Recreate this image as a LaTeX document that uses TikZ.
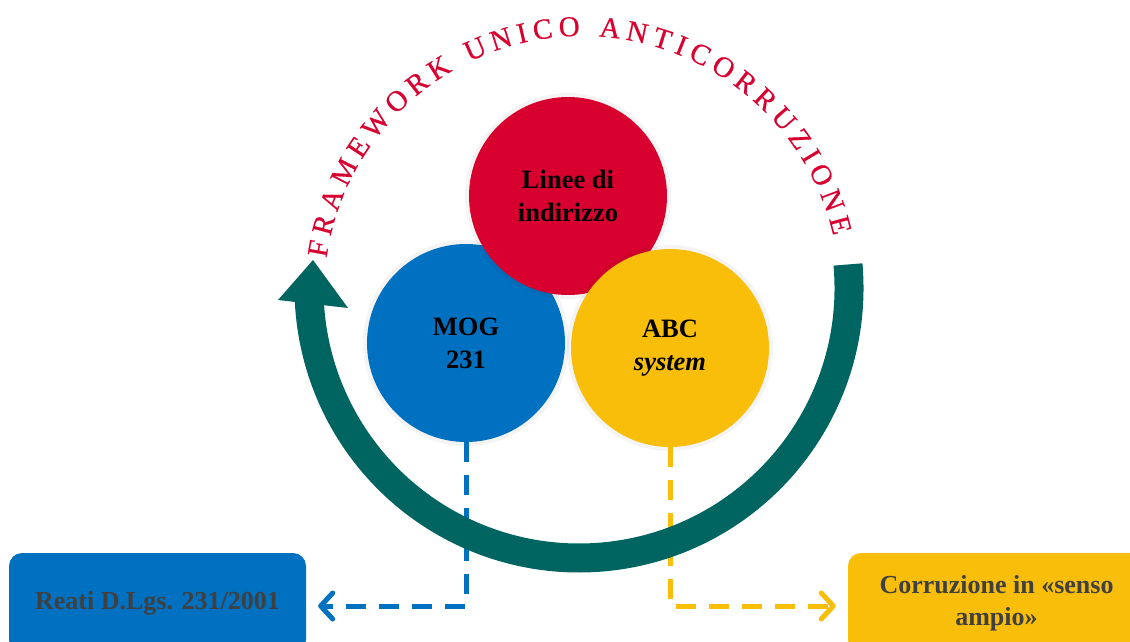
\documentclass[tikz,border=0pt]{standalone}
\usepackage{fontspec}
\setmainfont{Liberation Serif}
\newfontfamily\arcfam{Liberation Serif}[BoldFont=Liberation Serif, BoldFeatures={FakeBold=0.6}]
\usetikzlibrary{decorations.text, calc, arrows.meta}
\definecolor{cblue}{RGB}{0,112,192}
\definecolor{cred}{RGB}{216,0,46}
\definecolor{cyellow}{RGB}{249,190,9}
\definecolor{cteal}{RGB}{0,101,97}
\definecolor{cgray}{RGB}{64,64,64}
\newcommand{\arcfont}{\arcfam\bfseries\fontsize{29}{29}\selectfont}
\tikzset{
  bubble/.style={circle, minimum size=198pt, inner sep=0pt, align=center,
    text=black, font=\bfseries\fontsize{26.5}{33}\selectfont},
  halo/.style={fill=black, opacity=0.045},
  infobox/.style={rectangle, rounded corners=13pt, minimum width=297pt,
    minimum height=100pt, align=center, text=cgray,
    font=\bfseries\fontsize{26}{32}\selectfont},
  dashlink/.style={line width=5pt, dash pattern=on 20pt off 13pt,
    -{Straight Barb[length=12pt,width=26pt,round]}, shorten >=12pt},
}
\begin{document}
\begin{tikzpicture}[x=1pt,y=1pt]
\clip (0,0) rectangle (1130,641);
\coordinate (cB) at (466,298);
\coordinate (cR) at (568,445);
\coordinate (cY) at (670,293);
\coordinate (gc) at (579,353);
\coordinate (tc) at (582,347);

% bottom boxes
\node[infobox, fill=cblue] (reati) at (157.5,38) {Reati D.Lgs. 231/2001};
\node[infobox, fill=cyellow] (corr) at (996.5,38) {Corruzione in «senso\\ampio»};

% circles
\fill[halo] (cB) circle (103) (cB) circle (101.5) (cB) circle (100.3);
\node[bubble, fill=cblue] (mog) at (cB) {MOG\\231};
\fill[halo] (cR) circle (103) (cR) circle (101.5) (cR) circle (100.3);
\node[bubble, fill=cred] (linee) at (cR) {Linee di\\indirizzo};
\fill[halo] (cY) circle (103) (cY) circle (101.5) (cY) circle (100.3);
\node[bubble, fill=cyellow] (abc) at (cY) {ABC\\\textit{system}};

% dashed connectors
\draw[dashlink, draw=cblue] (mog.south) |- ([yshift=-3pt]reati.east);
\draw[dashlink, draw=cyellow] (abc.south) |- ([yshift=-3pt]corr.west);

% circular arrow
\draw[cteal, line width=29pt] ($(gc)+(5:270)$) arc[start angle=5, end angle=-178, radius=270];
\fill[cteal] (278,341) -- (313,381) -- (348,333) -- cycle;

% title along the arc
\path[decorate, decoration={text along path, text align={fit to path}, text color=cred,
  text={|\arcfont|FRAMEWORK UNICO ANTICORRUZIONE}}]
  ($(tc)+(172:258)$) arc[start angle=172, end angle=13, radius=258];
\end{tikzpicture}
\end{document}
